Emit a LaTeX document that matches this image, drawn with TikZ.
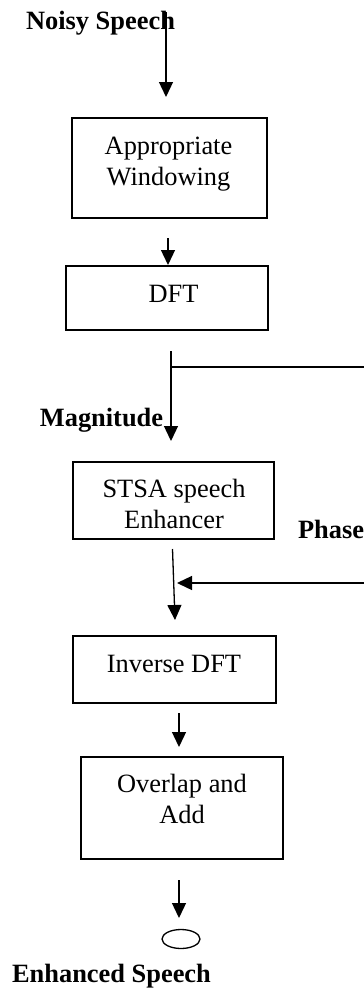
\documentclass[tikz,border=0pt]{standalone}
\usepackage{fontspec}
\setmainfont{Liberation Serif}
\usetikzlibrary{arrows.meta,shapes.geometric}
\begin{document}
\begin{tikzpicture}[x=1pt,y=-1pt,
  box/.style={draw,line width=1.1pt,inner sep=0pt},
  txt/.style={font=\fontsize{26.4}{31}\selectfont,align=center,inner sep=0pt,anchor=base},
  btxt/.style={txt,font=\fontsize{26.4}{31}\selectfont\bfseries},
  arr/.style={line width=1.3pt,-{Triangle[width=14pt,length=15pt]}},
  ln/.style={line width=1.2pt}]
\useasboundingbox (0,0) rectangle (364,996);

% boxes
\node[box,minimum width=195pt,minimum height=100pt] (win) at (169.5,168) {};
\node[box,minimum width=202pt,minimum height=64pt] (dft) at (167,298) {};
\node[box,minimum width=201pt,minimum height=77pt] (stsa) at (173.5,500.5) {};
\node[box,minimum width=203pt,minimum height=67pt] (idft) at (174.5,669.5) {};
\node[box,minimum width=202pt,minimum height=102pt] (ola) at (182,808) {};
\node[draw,ellipse,line width=1.3pt,minimum width=38pt,minimum height=19pt,inner sep=0pt] (out) at (181,939) {};

% texts (base anchor = baseline of last line)
\node[btxt] (noisy) at (100.5,29.3) {Noisy Speech};
\node[txt] (wint) at (168.5,185) {Appropriate\\Windowing};
\node[txt] (dftt) at (173.5,302) {DFT};
\node[btxt] (mag) at (101.5,426) {Magnitude};
\node[txt] (stsat) at (174,528) {STSA speech\\Enhancer};
\node[btxt] (phase) at (331,538) {Phase};
\node[txt] (idftt) at (174,672) {Inverse DFT};
\node[txt] (olat) at (182,823) {Overlap and\\Add};
\node[btxt] (enh) at (111.5,982) {Enhanced Speech};

% connector end points
\coordinate (a1s) at (166,12);
\coordinate (a1e) at (166,97);
\coordinate (a2s) at (168,238);
\coordinate (a2e) at (168,265);
\coordinate (a3s) at (171,351);
\coordinate (a3e) at (171,441);
\coordinate (br) at (171,367);
\coordinate (bre) at (364,367);
\coordinate (a4s) at (172.5,549);
\coordinate (a4e) at (175,620);
\coordinate (a5s) at (364,583);
\coordinate (a5e) at (177,583);
\coordinate (a6s) at (179,713);
\coordinate (a6e) at (179,747);
\coordinate (a7s) at (179,880);
\coordinate (a7e) at (179,918);

\draw[arr] (a1s) -- (a1e);
\draw[arr] (a2s) -- (a2e);
\draw[arr] (a3s) -- (a3e);
\draw[ln] (br) -- (bre);
\draw[arr] (a4s) -- (a4e);
\draw[arr] (a5s) -- (a5e);
\draw[arr] (a6s) -- (a6e);
\draw[arr] (a7s) -- (a7e);
\end{tikzpicture}
\end{document}
